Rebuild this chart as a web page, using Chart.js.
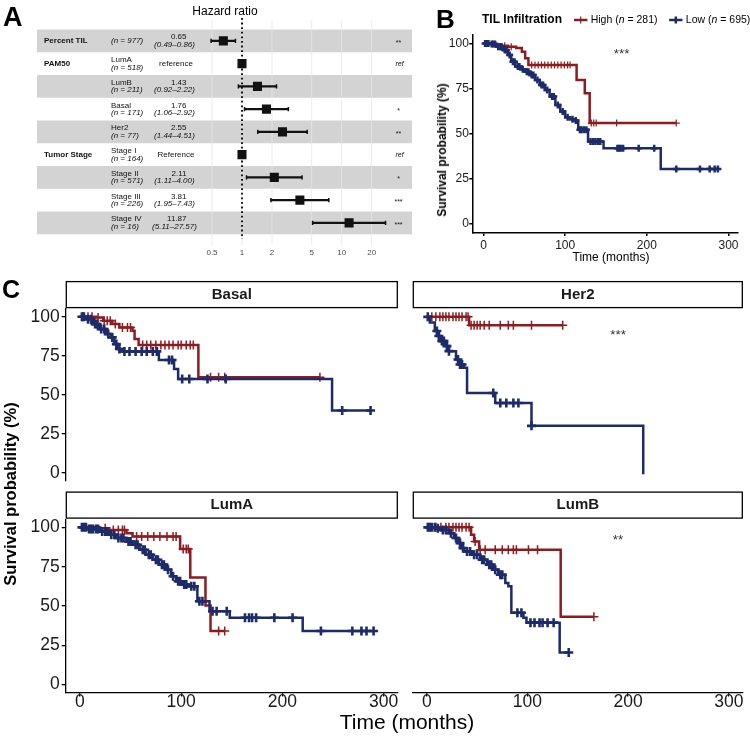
<!DOCTYPE html>
<html>
<head>
<meta charset="utf-8">
<script src="https://cdn.jsdelivr.net/npm/chart.js@4.4.1/dist/chart.umd.min.js"></script>
<style>
  body { margin: 0; background: #fff; }
  #page { position: relative; width: 750px; height: 745px; overflow: hidden; background: #fff;
          font-family: Arial, "Liberation Sans", Helvetica, sans-serif; color: #000; }
  #page canvas { position: absolute; }
  .lbl { position: absolute; white-space: nowrap; line-height: 1; }
  .panel { font-weight: bold; }
</style>
</head>
<body>
<div id="page">
  <canvas id="forest" width="420" height="265" style="left:0;top:0"></canvas>
  <canvas id="kmB" width="330" height="265" style="left:420px;top:0"></canvas>
  <canvas id="basal" width="405" height="217" style="left:0;top:276px"></canvas>
  <canvas id="her2" width="345" height="217" style="left:405px;top:276px"></canvas>
  <canvas id="lumA" width="405" height="240" style="left:0;top:487px"></canvas>
  <canvas id="lumB" width="345" height="240" style="left:405px;top:487px"></canvas>

  <div class="lbl panel" style="left:3px;top:4px;font-size:27px">A</div>
  <div class="lbl panel" style="left:436px;top:6px;font-size:26px">B</div>
  <div class="lbl panel" style="left:2px;top:277px;font-size:25px">C</div>
  <div class="lbl" style="left:225px;top:11px;transform:translate(-50%,-50%);font-size:12px">Hazard ratio</div>
  <div class="lbl" style="left:442px;top:150px;transform:translate(-50%,-50%) rotate(-90deg);font-size:12px;font-weight:bold">Survival probability (%)</div>
  <div class="lbl" style="left:611px;top:257px;transform:translate(-50%,-50%);font-size:12px">Time (months)</div>
  <div class="lbl" style="left:10px;top:494px;transform:translate(-50%,-50%) rotate(-90deg);font-size:16.5px;font-weight:bold">Survival probability (%)</div>
  <div class="lbl" style="left:407px;top:721px;transform:translate(-50%,-50%);font-size:21px">Time (months)</div>
</div>

<script>
const FONT = 'Arial, "Liberation Sans", Helvetica, sans-serif';
const RED = '#8e1b1f';
const BLUE = '#1d2b6a';

// Panel A - hazard ratios
const forestRows = ['Percent TIL', 'LumA', 'LumB', 'Basal', 'Her2', 'Stage I', 'Stage II', 'Stage III', 'Stage IV'];
const forestGroups = ['Percent TIL', 'PAM50', '', '', '', 'Tumor Stage', '', '', ''];
const forestLevels = ['', 'LumA', 'LumB', 'Basal', 'Her2', 'Stage I', 'Stage II', 'Stage III', 'Stage IV'];
const forestN = [977, 518, 211, 171, 77, 164, 571, 226, 16];
const forestHR = [0.65, 1, 1.43, 1.76, 2.55, 1, 2.11, 3.81, 11.87];
const forestLow = [0.49, null, 0.92, 1.06, 1.44, null, 1.11, 1.95, 5.11];
const forestHigh = [0.86, null, 2.22, 2.92, 4.51, null, 4.00, 7.43, 27.57];
const forestRefText = [null, 'reference', null, null, null, 'Reference', null, null, null];
const forestSig = ['**', 'ref', '', '*', '**', 'ref', '*', '***', '***'];
const forestTicks = [0.5, 1, 2, 5, 10, 20];

// KM axes
const timeTicks = [0, 100, 200, 300];
const survTicks = [0, 25, 50, 75, 100];

// Panel B - all patients
const bLegendTitle = 'TIL Infiltration';
const bHighN = 281;
const bLowN = 695;
const bHighTime = [0, 12, 22, 30, 40, 47, 51, 55, 114, 124, 130, 236];
const bHighSurv = [100, 99.4, 98.8, 98.2, 97.5, 95.5, 91.8, 88.1, 79.8, 72.5, 55.9, 55.9];
const bHighCensor = [5, 15, 26, 34, 59, 63, 67, 71, 75, 79, 83, 87, 91, 95, 99, 103, 106, 132, 135, 138, 163, 236];
const bLowTime = [0, 8, 16, 24, 30, 34, 39, 45, 51, 57, 63, 69, 75, 81, 88, 94, 100, 106, 112, 116, 128, 147, 217, 288];
const bLowSurv = [100, 99.7, 98.2, 96.4, 93.6, 89.9, 87.2, 85.7, 84.4, 82.6, 79.8, 77, 74.3, 70.6, 66, 62.3, 59.2, 58.1, 57.3, 52.2, 45.7, 42, 30.4, 30.4];
const bLowCensor = [2, 4, 6, 10, 12, 14, 18, 20, 22, 26, 28, 32, 36, 38, 42, 44, 48, 53, 55, 59, 61, 66, 71, 73, 78, 84, 86, 91, 97, 103, 109, 113, 118, 120, 123, 126, 131, 134, 137, 140, 143, 164, 166, 168, 171, 190, 209, 236, 265, 277, 283, 287];

// Panel C - Basal
const basalHighTime = [0, 16, 23, 32, 39, 52, 54, 58, 117, 237];
const basalHighSurv = [100, 99.6, 97.4, 95.3, 93.2, 91, 85.7, 81.9, 61.2, 61.2];
const basalHighCensor = [3, 8, 12, 18, 24, 27, 30, 35, 42, 47, 50, 62, 66, 70, 75, 80, 84, 88, 92, 97, 100, 105, 109, 112, 129, 137, 143, 237];
const basalLowTime = [0, 6, 13, 19, 26, 31, 34, 37, 41, 78, 93, 97, 249, 288];
const basalLowSurv = [100, 98.5, 95.3, 92.1, 88.9, 86.8, 82.5, 79.3, 77.8, 72.3, 66.5, 60.1, 39.9, 39.9];
const basalLowCensor = [2, 4, 8, 11, 15, 17, 21, 24, 28, 32, 36, 39, 44, 49, 55, 61, 66, 72, 76, 88, 91, 101, 108, 126, 144, 259, 287];

// Panel C - Her2
const her2HighTime = [0, 42, 135];
const her2HighSurv = [100, 94.7, 94.7];
const her2HighCensor = [5, 9, 13, 16, 19, 22, 26, 29, 32, 35, 39, 41, 44, 47, 50, 53, 57, 62, 73, 81, 86, 104, 135];
const her2LowTime = [0, 3, 8, 11, 14, 19, 22, 29, 32, 37, 40, 68, 104, 215];
const her2LowSurv = [100, 96.4, 91, 87.8, 84.6, 81.4, 78.2, 72.9, 69.7, 67.6, 51.6, 45.2, 30.7, 0];
const her2LowCensor = [1, 10, 12, 15, 17, 20, 22, 31, 33, 35, 66, 73, 79, 86, 91, 104];

// Panel C - LumA
const lumAHighTime = [0, 20, 29, 46, 52, 99, 109, 124, 129, 143];
const lumAHighSurv = [100, 99.5, 98.4, 96.3, 94.2, 86.2, 68.2, 50.3, 34.1, 34.1];
const lumAHighCensor = [25, 33, 38, 42, 44, 56, 61, 67, 73, 79, 86, 92, 95, 102, 105, 107, 137, 143];
const lumALowTime = [0, 8, 20, 29, 36, 46, 52, 59, 65, 72, 78, 85, 90, 95, 101, 107, 116, 128, 148, 220, 290];
const lumALowSurv = [100, 99, 97.3, 95.3, 93.2, 91, 88.9, 85.8, 82.6, 79.4, 76.3, 73.1, 68.9, 65.7, 63.6, 62.5, 53, 46.7, 42.5, 34.1, 34.1];
const lumALowCensor = [2, 4, 6, 9, 11, 13, 16, 18, 22, 25, 27, 31, 34, 38, 41, 43, 48, 50, 55, 57, 62, 64, 68, 70, 75, 77, 81, 83, 87, 92, 97, 99, 103, 105, 110, 113, 118, 121, 131, 135, 145, 163, 167, 170, 174, 192, 210, 238, 269, 278, 283, 290];

// Panel C - LumB
const lumBHighTime = [0, 44, 47, 52, 133, 166];
const lumBHighSurv = [100, 95.3, 91, 85.8, 43.2, 43.2];
const lumBHighCensor = [9, 14, 19, 22, 26, 29, 32, 35, 39, 42, 48, 53, 58, 68, 75, 81, 86, 89, 101, 110, 166];
const lumBLowTime = [0, 9, 14, 22, 27, 31, 34, 37, 45, 53, 60, 66, 71, 78, 81, 84, 96, 99, 132, 141];
const lumBLowSurv = [100, 99.5, 98.4, 96.3, 93.2, 90, 86.8, 84.7, 82.6, 79.4, 76.3, 73.1, 69.9, 64.7, 62.5, 45.7, 42.5, 39.4, 20.4, 20.4];
const lumBLowCensor = [1, 3, 5, 8, 11, 16, 19, 24, 29, 33, 36, 40, 43, 47, 50, 55, 57, 62, 64, 68, 73, 75, 90, 94, 103, 107, 112, 115, 120, 126, 141];

Chart.defaults.font.family = FONT;
Chart.defaults.color = '#1a1a1a';

// ---------- Panel A ----------
const forestTable = {
  id: 'forestTable',
  beforeDatasetsDraw(chart) {
    const { ctx, chartArea, scales: { x, y } } = chart;
    const rowH = y.getPixelForValue(1) - y.getPixelForValue(0);
    ctx.save();
    ctx.fillStyle = '#d3d3d3';
    forestRows.forEach((r, i) => {
      if (i % 2 === 0) {
        const yc = y.getPixelForValue(i);
        ctx.fillRect(37, yc - rowH / 2, chartArea.right - 37, rowH);
      }
    });
    ctx.strokeStyle = '#e6e6e6';
    ctx.lineWidth = 0.8;
    forestTicks.forEach(v => {
      const px = x.getPixelForValue(v);
      ctx.beginPath();
      ctx.moveTo(px, 20);
      ctx.lineTo(px, 245);
      ctx.stroke();
    });
    // dotted line at HR = 1
    const p1 = x.getPixelForValue(1);
    ctx.strokeStyle = '#000';
    ctx.lineWidth = 1.8;
    ctx.setLineDash([1.8, 2.8]);
    ctx.beginPath();
    ctx.moveTo(p1, 18);
    ctx.lineTo(p1, 239);
    ctx.stroke();
    ctx.restore();
  },
  afterDraw(chart) {
    const { ctx, scales: { y } } = chart;
    ctx.save();
    ctx.fillStyle = '#111';
    ctx.textBaseline = 'middle';
    forestRows.forEach((r, i) => {
      const yc = y.getPixelForValue(i);
      if (forestGroups[i]) {
        ctx.font = `bold 8px ${FONT}`;
        ctx.textAlign = 'left';
        ctx.fillText(forestGroups[i], 44, yc);
      }
      ctx.textAlign = 'left';
      if (forestLevels[i]) {
        ctx.font = `8px ${FONT}`;
        ctx.fillText(forestLevels[i], 111, yc - 3.7);
        ctx.font = `italic 8px ${FONT}`;
        ctx.fillText(`(n = ${forestN[i]})`, 111, yc + 3.7);
      } else {
        ctx.font = `italic 8px ${FONT}`;
        ctx.fillText(`(n = ${forestN[i]})`, 111, yc);
      }
      if (forestRefText[i]) {
        ctx.font = `8px ${FONT}`;
        ctx.textAlign = 'center';
        ctx.fillText(forestRefText[i], 176, yc);
      } else {
        ctx.font = `8px ${FONT}`;
        ctx.textAlign = 'right';
        ctx.fillText(forestHR[i].toFixed(2), 186.5, yc - 3.7);
        ctx.font = `italic 8px ${FONT}`;
        ctx.textAlign = 'center';
        ctx.fillText(`(${forestLow[i].toFixed(2)}\u2013${forestHigh[i].toFixed(2)})`, 174.5, yc + 3.7);
      }
      if (forestSig[i] === 'ref') {
        ctx.font = `italic 7px ${FONT}`;
        ctx.textAlign = 'center';
        ctx.fillText('ref', 399.5, yc);
      } else if (forestSig[i]) {
        ctx.font = `7px ${FONT}`;
        ctx.textAlign = 'center';
        ctx.textBaseline = 'alphabetic';
        ctx.fillText(forestSig[i], 398.5, yc + 4);
        ctx.textBaseline = 'middle';
      }
    });
    ctx.restore();
  }
};

new Chart(document.getElementById('forest'), {
  type: 'bar',
  data: {
    labels: forestRows,
    datasets: [
      { type: 'line', indexAxis: 'y', data: forestHR, showLine: false, pointStyle: 'rect',
        pointRadius: 6.4, backgroundColor: '#111', borderColor: '#111', borderWidth: 0 },
      { type: 'line', indexAxis: 'y', data: forestLow, showLine: false, pointStyle: 'line', rotation: 90,
        pointRadius: 2.2, borderColor: '#111', borderWidth: 1.5 },
      { type: 'line', indexAxis: 'y', data: forestHigh, showLine: false, pointStyle: 'line', rotation: 90,
        pointRadius: 2.2, borderColor: '#111', borderWidth: 1.5 },
      { type: 'bar', indexAxis: 'y', data: forestLow.map((lo, i) => lo == null ? null : [lo, forestHigh[i]]),
        backgroundColor: '#111', barThickness: 1.6, grouped: false }
    ]
  },
  options: {
    indexAxis: 'y',
    responsive: false,
    animation: false,
    events: [],
    layout: { padding: { left: 200, right: 8, top: 29.5, bottom: 0 } },
    plugins: { legend: { display: false }, tooltip: { enabled: false } },
    scales: {
      x: {
        type: 'logarithmic', min: 0.379, max: 50.8,
        afterBuildTicks: s => { s.ticks = forestTicks.map(v => ({ value: v })); },
        afterFit: s => { s.height = 30.75; },
        grid: { display: false, drawTicks: false },
        border: { display: false },
        ticks: { padding: 13.6, color: '#4d4d4d', font: { size: 8 }, autoSkip: false, maxRotation: 0,
                 callback: v => String(v) }
      },
      y: { type: 'category', display: false, offset: true }
    }
  },
  plugins: [forestTable]
});

// ---------- KM helpers ----------
function survAt(times, surv, t) {
  let s = surv[0];
  for (let i = 0; i < times.length; i++) {
    if (times[i] <= t) s = surv[i];
  }
  return s;
}

function lineSet(g, color, w) {
  return {
    data: g.time.map((t, i) => ({ x: t, y: g.surv[i] })),
    showLine: true, stepped: true, borderColor: color, borderWidth: w,
    pointRadius: 0, fill: false, clip: false
  };
}

function censorSet(g, color, r, w) {
  return {
    data: g.censor.map(t => ({ x: t, y: survAt(g.time, g.surv, t) })),
    showLine: false, pointStyle: 'cross', pointRadius: r, borderColor: color,
    backgroundColor: color, borderWidth: w, clip: false
  };
}

function stripPlugin(text) {
  return {
    id: 'strip',
    afterDraw(chart) {
      if (!text) return;
      const { ctx, chartArea: a } = chart;
      ctx.save();
      ctx.fillStyle = '#fff';
      ctx.fillRect(a.left, a.top - 28, a.right - a.left, 27);
      ctx.strokeStyle = '#000';
      ctx.lineWidth = 1.3;
      ctx.strokeRect(a.left + 0.6, a.top - 27.4, a.right - a.left - 1.2, 26);
      ctx.fillStyle = '#1a1a1a';
      ctx.font = `bold 15px ${FONT}`;
      ctx.textAlign = 'center';
      ctx.textBaseline = 'middle';
      ctx.fillText(text, (a.left + a.right) / 2, a.top - 14.5);
      ctx.restore();
    }
  };
}

function notePlugin(items) {
  return {
    id: 'notes',
    afterDatasetsDraw(chart) {
      const { ctx, scales: { x, y } } = chart;
      ctx.save();
      items.forEach(n => {
        ctx.font = `${n.size}px ${FONT}`;
        ctx.fillStyle = '#333';
        ctx.textAlign = 'center';
        ctx.textBaseline = 'alphabetic';
        ctx.fillText(n.text, x.getPixelForValue(n.t), y.getPixelForValue(n.s) + n.size * 0.57);
      });
      ctx.restore();
    }
  };
}

const bLegend = {
  id: 'bLegend',
  afterDraw(chart) {
    const ctx = chart.ctx;
    const yc = 20;
    ctx.save();
    ctx.textBaseline = 'middle';
    ctx.textAlign = 'left';
    ctx.fillStyle = '#000';
    ctx.font = `bold 12px ${FONT}`;
    ctx.fillText(bLegendTitle, 62, yc);
    let x = 62 + ctx.measureText(bLegendTitle).width + 12;
    [['High', bHighN, RED, 1.2], ['Low', bLowN, BLUE, 2.5]].forEach(([name, n, color, cw]) => {
      ctx.strokeStyle = color;
      ctx.lineWidth = 2.5;
      ctx.beginPath(); ctx.moveTo(x, yc); ctx.lineTo(x + 13.4, yc); ctx.stroke();
      ctx.lineWidth = cw;
      ctx.beginPath(); ctx.moveTo(x + 6.7, yc - 3.5); ctx.lineTo(x + 6.7, yc + 3.5); ctx.stroke();
      x += 16.7;
      const parts = [[`${name} (`, ''], ['n', 'italic '], [` = ${n})`, '']];
      ctx.fillStyle = '#000';
      parts.forEach(([s, st]) => {
        ctx.font = `${st}10.5px ${FONT}`;
        ctx.fillText(s, x, yc);
        x += ctx.measureText(s).width;
      });
      x += 11.6;
    });
    ctx.restore();
  }
};

function kmChart(id, low, high, cfg) {
  const axisCommon = {
    border: { display: true, color: '#000', width: cfg.axisW },
    grid: { drawOnChartArea: false, drawTicks: true, tickLength: cfg.tickLen, color: '#000', lineWidth: cfg.axisW }
  };
  return new Chart(document.getElementById(id), {
    type: 'scatter',
    data: {
      datasets: [
        censorSet(low, BLUE, cfg.cross, cfg.lowCrossW),
        lineSet(low, BLUE, cfg.lineW),
        censorSet(high, RED, cfg.cross, cfg.highCrossW),
        lineSet(high, RED, cfg.lineW)
      ]
    },
    options: {
      responsive: false,
      animation: false,
      events: [],
      layout: { padding: cfg.padding },
      plugins: { legend: { display: false }, tooltip: { enabled: false } },
      scales: {
        x: {
          type: 'linear', display: cfg.showX, min: cfg.xMin, max: cfg.xMax,
          afterBuildTicks: s => { s.ticks = timeTicks.map(v => ({ value: v })); },
          afterFit: s => { s.height = cfg.xHeight; },
          ...axisCommon,
          ticks: { padding: cfg.xPad, color: '#1a1a1a', font: { size: cfg.tickSize, lineHeight: cfg.xLineH },
                   maxRotation: 0, autoSkip: false }
        },
        y: {
          type: 'linear', display: cfg.showY, min: -5, max: 105,
          afterBuildTicks: s => { s.ticks = survTicks.map(v => ({ value: v })); },
          afterFit: s => { s.width = cfg.yWidth; },
          ...axisCommon,
          ticks: { padding: cfg.yPad, color: '#1a1a1a', font: { size: cfg.tickSize }, autoSkip: false }
        }
      }
    },
    plugins: [stripPlugin(cfg.strip), notePlugin(cfg.notes || [])].concat(cfg.extra || [])
  });
}

// ---------- Panel B ----------
kmChart('kmB',
  { time: bLowTime, surv: bLowSurv, censor: bLowCensor },
  { time: bHighTime, surv: bHighSurv, censor: bHighCensor },
  { padding: { left: 0, right: 12, top: 34.5, bottom: 0 }, showX: true, showY: true,
    xMin: -13.7, xMax: 311.6, xHeight: 32, yWidth: 52.3, tickSize: 12, tickLen: 3,
    xPad: 2.8, xLineH: 1.2, yPad: 0.5, axisW: 1.5, lineW: 2.5, cross: 3.5, lowCrossW: 2.5, highCrossW: 1.2,
    notes: [{ text: '***', t: 169, s: 96.4, size: 13.5 }], extra: [bLegend] });

// ---------- Panel C ----------
const facetBase = { xMin: -14, xMax: 314, tickSize: 17.5, tickLen: 4, xPad: -3.5, xLineH: 1, yPad: 2,
                    axisW: 1.3, lineW: 2.5, cross: 4.5, lowCrossW: 2.6, highCrossW: 1.5 };

kmChart('basal',
  { time: basalLowTime, surv: basalLowSurv, censor: basalLowCensor },
  { time: basalHighTime, surv: basalHighSurv, censor: basalHighCensor },
  { ...facetBase, strip: 'Basal', padding: { left: 0, right: 3.5, top: 33, bottom: 11 },
    showX: false, showY: true, xHeight: 0, yWidth: 65.7 });

kmChart('her2',
  { time: her2LowTime, surv: her2LowSurv, censor: her2LowCensor },
  { time: her2HighTime, surv: her2HighSurv, censor: her2HighCensor },
  { ...facetBase, strip: 'Her2', padding: { left: 7.7, right: 1.7, top: 33, bottom: 11 },
    showX: false, showY: false, xHeight: 0, yWidth: 0,
    notes: [{ text: '***', t: 190, s: 90.7, size: 13.5 }] });

kmChart('lumA',
  { time: lumALowTime, surv: lumALowSurv, censor: lumALowCensor },
  { time: lumAHighTime, surv: lumAHighSurv, censor: lumAHighCensor },
  { ...facetBase, strip: 'LumA', padding: { left: 0, right: 3.5, top: 32.5, bottom: 9.5 },
    showX: true, showY: true, xHeight: 25, yWidth: 65.7 });

kmChart('lumB',
  { time: lumBLowTime, surv: lumBLowSurv, censor: lumBLowCensor },
  { time: lumBHighTime, surv: lumBHighSurv, censor: lumBHighCensor },
  { ...facetBase, strip: 'LumB', padding: { left: 7.7, right: 1.7, top: 32.5, bottom: 9.5 },
    showX: true, showY: false, xHeight: 25, yWidth: 0,
    notes: [{ text: '**', t: 190, s: 94.2, size: 13.5 }] });
</script>
</body>
</html>
